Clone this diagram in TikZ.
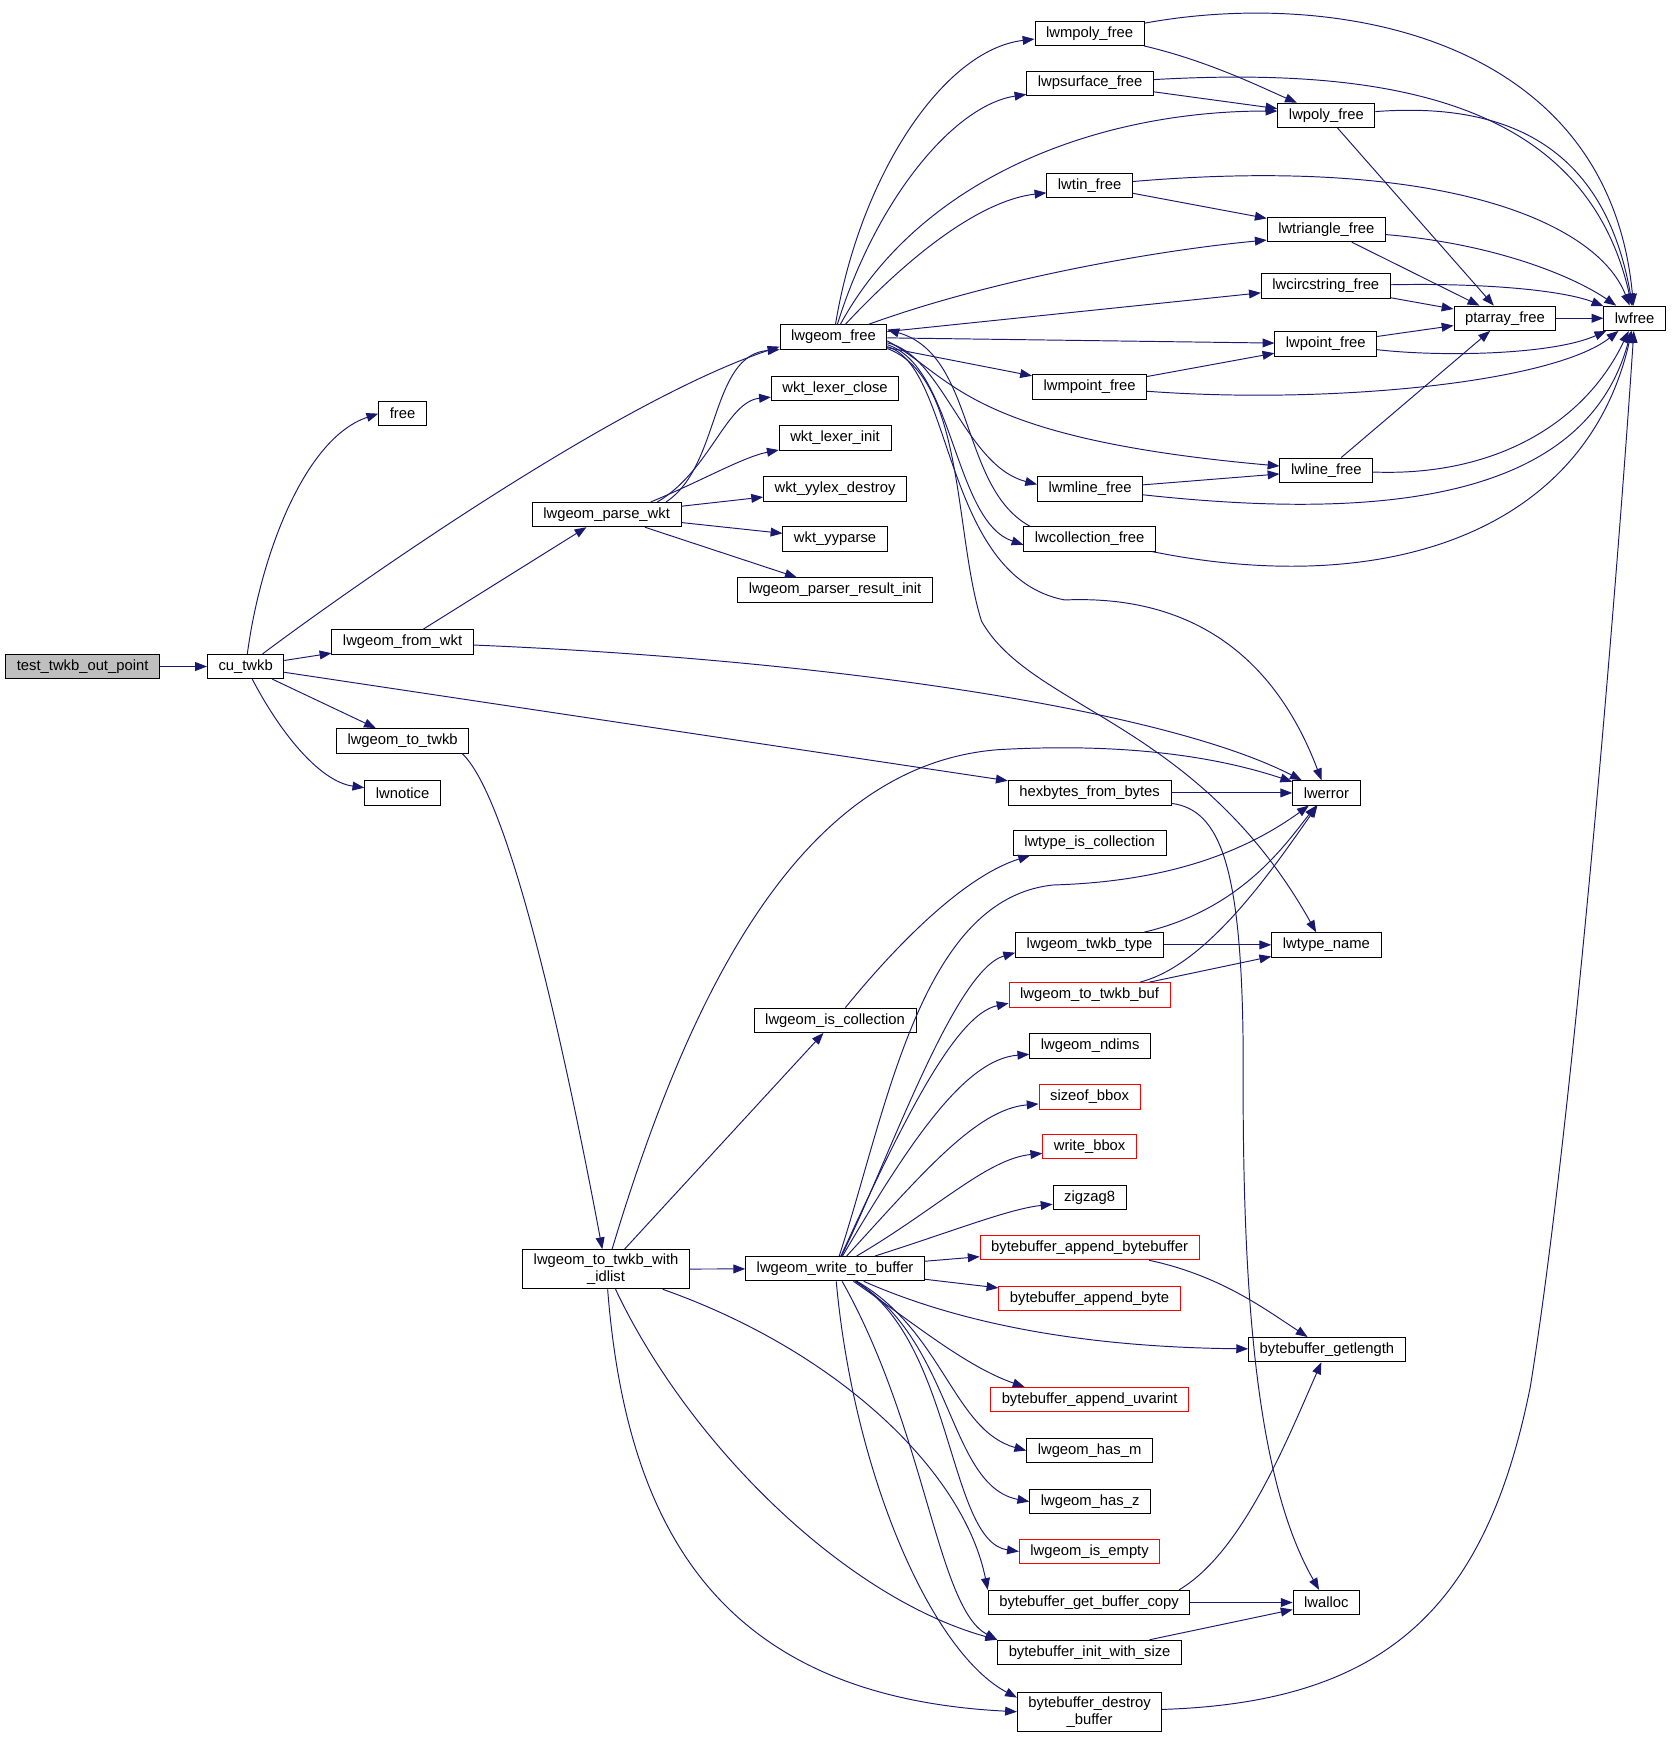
\documentclass[tikz,border=0pt]{standalone}
\usepackage{fontspec}
\setmainfont{Liberation Sans}
\usetikzlibrary{arrows.meta}

\definecolor{edgeblue}{HTML}{191970}
\definecolor{curgray}{HTML}{BFBFBF}

\tikzset{
  fn/.style={draw=black, fill=white, line width=0.6pt, font=\fontsize{10pt}{11.5pt}\selectfont,
    inner xsep=7.5pt, inner ysep=0pt, minimum height=16.5pt},
  fnred/.style={fn, draw=red},
  fncur/.style={fn, fill=curgray},
  fntwo/.style={fn, align=center, minimum height=26.5pt},
  call/.style={draw=edgeblue, line width=0.65pt, -{Triangle[length=8pt,width=6pt]}},
}

\begin{document}
\begin{tikzpicture}[x=0.75pt, y=-0.75pt]
\useasboundingbox (0,0) rectangle (1509,1569);

\node[fncur] (test) at (74.5,601) {test\_twkb\_out\_point};
\node[fn] (cu) at (221.5,601) {cu\_twkb};
\node[fn] (free) at (363,373) {free};
\node[fn] (fromwkt) at (363,579) {lwgeom\_from\_wkt};
\node[fn] (totwkb) at (363,668) {lwgeom\_to\_twkb};
\node[fn] (notice) at (363,715) {lwnotice};
\node[fn] (parsewkt) at (547,464) {lwgeom\_parse\_wkt};
\node[fntwo] (idlist) at (546.5,1144.5) {lwgeom\_to\_twkb\_with\\\_idlist};

\node[fn] (geomfree) at (751.5,304) {lwgeom\_free};
\node[fn] (lexclose) at (753,350) {wkt\_lexer\_close};
\node[fn] (lexinit) at (753,395) {wkt\_lexer\_init};
\node[fn] (yylex) at (753,441) {wkt\_yylex\_destroy};
\node[fn] (yyparse) at (753,486) {wkt\_yyparse};
\node[fn] (resinit) at (753,532) {lwgeom\_parser\_result\_init};
\node[fn] (iscoll) at (753,920) {lwgeom\_is\_collection};
\node[fn] (write) at (753,1144) {lwgeom\_write\_to\_buffer};

\node[fn] (mpoly) at (982.5,30) {lwmpoly\_free};
\node[fn] (psurf) at (983,75) {lwpsurface\_free};
\node[fn] (tin) at (982.5,167) {lwtin\_free};
\node[fn] (mpoint) at (982.5,349) {lwmpoint\_free};
\node[fn] (mline) at (983,441) {lwmline\_free};
\node[fn] (coll) at (982.5,486) {lwcollection\_free};
\node[fn] (hexbytes) at (982.5,715) {hexbytes\_from\_bytes};
\node[fn] (typeiscoll) at (982.5,760) {lwtype\_is\_collection};
\node[fn] (twkbtype) at (982.5,852) {lwgeom\_twkb\_type};
\node[fnred] (twkbbuf) at (982.5,897) {lwgeom\_to\_twkb\_buf};
\node[fn] (ndims) at (983,943) {lwgeom\_ndims};
\node[fnred] (sizeofbbox) at (982.5,989) {sizeof\_bbox};
\node[fnred] (writebbox) at (982.5,1034) {write\_bbox};
\node[fn] (zigzag) at (982.5,1080) {zigzag8};
\node[fnred] (appbb) at (982.5,1125) {bytebuffer\_append\_bytebuffer};
\node[fnred] (appbyte) at (982.5,1171) {bytebuffer\_append\_byte};
\node[fnred] (appuvar) at (982.5,1262) {bytebuffer\_append\_uvarint};
\node[fn] (hasm) at (982.5,1308) {lwgeom\_has\_m};
\node[fn] (hasz) at (983,1354) {lwgeom\_has\_z};
\node[fnred] (isempty) at (982.5,1399) {lwgeom\_is\_empty};
\node[fn] (getcopy) at (982,1445) {bytebuffer\_get\_buffer\_copy};
\node[fn] (initsize) at (982.5,1490) {bytebuffer\_init\_with\_size};
\node[fntwo] (destroy) at (982.5,1543.5) {bytebuffer\_destroy\\\_buffer};

\node[fn] (poly) at (1196,104) {lwpoly\_free};
\node[fn] (triangle) at (1196,207) {lwtriangle\_free};
\node[fn] (circ) at (1195.5,258) {lwcircstring\_free};
\node[fn] (point) at (1195.5,310) {lwpoint\_free};
\node[fn] (line) at (1196,424) {lwline\_free};
\node[fn] (lwerror) at (1196,715) {lwerror};
\node[fn] (typename) at (1196,852) {lwtype\_name};
\node[fn] (getlength) at (1196.5,1217) {bytebuffer\_getlength};
\node[fn] (alloc) at (1196,1445) {lwalloc};
\node[fn] (ptarray) at (1357,287) {ptarray\_free};
\node[fn] (lwfree) at (1474,287) {lwfree};

% callers on the left
\draw[call] (test) -- (cu);
\draw[call] (cu) .. controls (235,500) and (275,395) .. (free.west);
\draw[call] (cu) .. controls (330,520) and (560,360) .. (geomfree.190);
\draw[call] (cu) -- (fromwkt);
\draw[call] (cu) -- (hexbytes);
\draw[call] (cu) -- (totwkb);
\draw[call] (cu) .. controls (255,665) and (290,705) .. (notice);
\draw[call] (fromwkt) -- (parsewkt);
\draw[call] (fromwkt) .. controls (750,595) and (1050,640) .. (lwerror);
\draw[call] (totwkb.348) .. controls (460,720) and (510,950) .. (idlist);

\draw[call] (parsewkt.12) .. controls (650,420) and (640,320) .. (geomfree.193);
\draw[call] (parsewkt.14) .. controls (640,425) and (655,362) .. (lexclose.188);
\draw[call] (parsewkt.16) .. controls (630,435) and (670,412) .. (lexinit.192);
\draw[call] (parsewkt) -- (yylex);
\draw[call] (parsewkt) -- (yyparse);
\draw[call] (parsewkt) -- (resinit);

\draw[call] (idlist) .. controls (620,900) and (720,690) .. (900,676)
  .. controls (1040,668) and (1120,690) .. (lwerror);
\draw[call] (idlist) -- (iscoll);
\draw[call] (idlist) -- (write);
\draw[call] (idlist) .. controls (760,1220) and (870,1330) .. (getcopy.north west);
\draw[call] (idlist) .. controls (620,1300) and (760,1440) .. (initsize.north west);
\draw[call] (idlist) .. controls (565,1380) and (650,1530) .. (destroy.west);

% lwgeom_write_to_buffer
\draw[call] (write) .. controls (800,1000) and (830,810) .. (950,798)
  .. controls (1050,795) and (1120,770) .. (lwerror);
\draw[call] (write) .. controls (800,1050) and (860,875) .. (twkbtype.186);
\draw[call] (write) .. controls (810,1020) and (860,915) .. (twkbbuf.186);
\draw[call] (write) .. controls (820,1030) and (870,955) .. (ndims.188);
\draw[call] (write) .. controls (830,1060) and (880,1000) .. (sizeofbbox.188);
\draw[call] (write) .. controls (845,1090) and (890,1045) .. (writebbox.188);
\draw[call] (write) .. controls (860,1110) and (910,1090) .. (zigzag.190);
\draw[call] (write) -- (appbb);
\draw[call] (write) -- (appbyte);
\draw[call] (write) .. controls (880,1200) and (1000,1215) .. (getlength);
\draw[call] (write) .. controls (820,1190) and (870,1232) .. (appuvar.169);
\draw[call] (write) .. controls (850,1200) and (860,1290) .. (hasm.west);
\draw[call] (write) .. controls (860,1210) and (855,1340) .. (hasz.west);
\draw[call] (write) .. controls (860,1210) and (855,1390) .. (isempty.west);
\draw[call] (write) .. controls (835,1290) and (845,1450) .. (initsize.north west);
\draw[call] (write) .. controls (770,1330) and (840,1490) .. (destroy.169);

\draw[call] (iscoll) .. controls (810,850) and (870,790) .. (typeiscoll.192);
\draw[call] (hexbytes) -- (lwerror);
\draw[call] (hexbytes) .. controls (1100,730) and (1120,780) .. (1121,950)
  .. controls (1120,1150) and (1130,1330) .. (alloc);

% lwgeom_free
\draw[call] (geomfree) .. controls (775,160) and (850,45) .. (mpoly.186);
\draw[call] (geomfree) .. controls (790,180) and (860,95) .. (psurf.190);
\draw[call] (geomfree) .. controls (830,160) and (990,100) .. (poly.175);
\draw[call] (geomfree) .. controls (830,220) and (890,180) .. (tin.190);
\draw[call] (geomfree) .. controls (900,250) and (1050,225) .. (triangle.190);
\draw[call] (geomfree) -- (circ);
\draw[call] (geomfree) -- (point);
\draw[call] (geomfree) -- (mpoint);
\draw[call] (geomfree.-4) .. controls (860,340) and (870,395) .. (line);
\draw[call] (geomfree.-6) .. controls (850,320) and (870,420) .. (mline.175);
\draw[call] (geomfree.-8) .. controls (860,330) and (860,470) .. (coll.185);
\draw[call] (coll.168) .. controls (865,440) and (880,320) .. (geomfree.8);
\draw[call] (geomfree.-10) .. controls (860,330) and (850,520) .. (960,541)
  .. controls (1100,535) and (1160,620) .. (lwerror);
\draw[call] (geomfree.-12) .. controls (870,340) and (860,480) .. (885,560)
  .. controls (930,640) and (1080,650) .. (typename.129);

% freeing helpers
\draw[call] (mpoly) .. controls (1200,-10) and (1450,30) .. (lwfree);
\draw[call] (mpoly) .. controls (1090,55) and (1140,80) .. (poly);
\draw[call] (psurf) .. controls (1250,60) and (1430,90) .. (lwfree);
\draw[call] (psurf) -- (poly);
\draw[call] (poly) .. controls (1380,90) and (1450,150) .. (lwfree);
\draw[call] (poly) -- (ptarray);
\draw[call] (tin) .. controls (1300,140) and (1440,200) .. (lwfree);
\draw[call] (tin) -- (triangle);
\draw[call] (triangle) -- (ptarray);
\draw[call] (triangle) .. controls (1350,220) and (1420,250) .. (lwfree);
\draw[call] (circ) .. controls (1340,255) and (1410,262) .. (lwfree);
\draw[call] (circ) -- (ptarray);
\draw[call] (point) -- (ptarray);
\draw[call] (point) .. controls (1300,322) and (1400,320) .. (lwfree);
\draw[call] (ptarray) -- (lwfree);
\draw[call] (mpoint) -- (point);
\draw[call] (mpoint) .. controls (1200,365) and (1400,345) .. (lwfree);
\draw[call] (line) -- (ptarray);
\draw[call] (line) .. controls (1350,430) and (1430,380) .. (lwfree);
\draw[call] (mline) -- (line);
\draw[call] (mline) .. controls (1250,470) and (1430,450) .. (lwfree);
\draw[call] (coll) .. controls (1250,540) and (1430,480) .. (lwfree);

% right column
\draw[call] (twkbtype) .. controls (1120,820) and (1160,760) .. (lwerror);
\draw[call] (twkbtype) -- (typename);
\draw[call] (twkbbuf) .. controls (1090,870) and (1150,780) .. (lwerror);
\draw[call] (twkbbuf) -- (typename);
\draw[call] (appbb) .. controls (1100,1150) and (1140,1180) .. (getlength);
\draw[call] (getcopy.8) .. controls (1120,1400) and (1160,1300) .. (getlength);
\draw[call] (getcopy) -- (alloc);
\draw[call] (initsize) -- (alloc);
\draw[call] (destroy) .. controls (1250,1535) and (1340,1450) .. (1380,1250)
  .. controls (1420,1000) and (1460,500) .. (lwfree);
\end{tikzpicture}
\end{document}
